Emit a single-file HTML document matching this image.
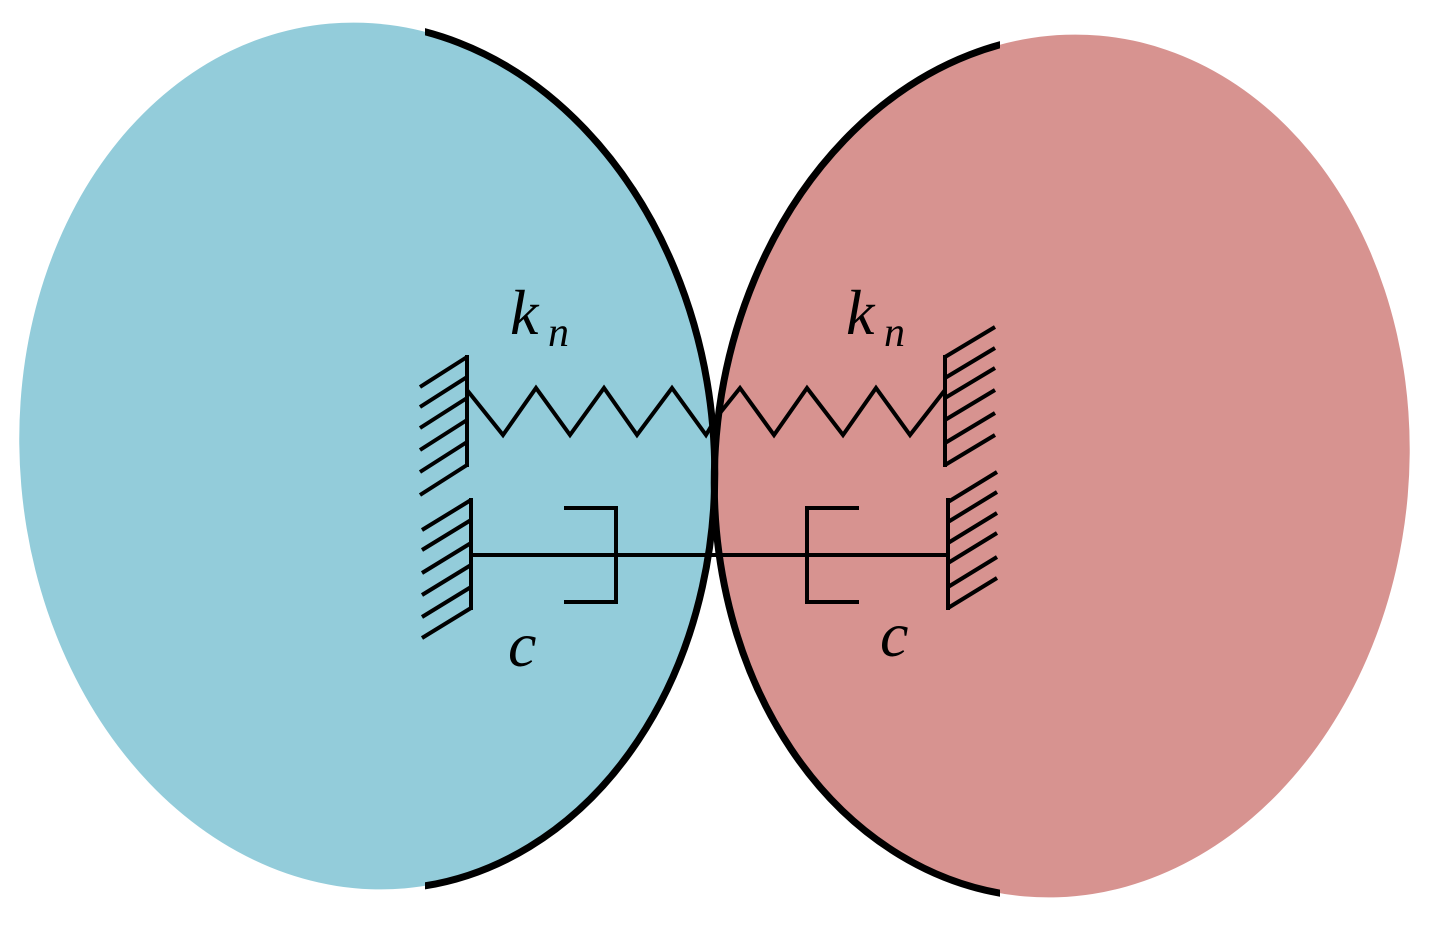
<!DOCTYPE html>
<html><head><style>html,body{margin:0;padding:0;background:#fff;}svg{display:block}</style></head>
<body>
<svg width="1432" height="925" viewBox="0 0 1432 925" xmlns="http://www.w3.org/2000/svg">
<defs>
<clipPath id="cb"><rect x="425" y="0" width="400" height="925"/></clipPath>
<clipPath id="cr"><rect x="600" y="0" width="400" height="925"/></clipPath>
</defs>
<ellipse cx="367" cy="456" rx="347" ry="434" transform="rotate(-5 367 456)" fill="#93ccda"/>
<ellipse cx="1062" cy="466" rx="347" ry="432" transform="rotate(5 1062 466)" fill="#d79390"/>
<g clip-path="url(#cb)">
<ellipse cx="367" cy="456" rx="347" ry="434" transform="rotate(-5 367 456)" fill="none" stroke="#000" stroke-width="7"/>
</g>
<g clip-path="url(#cr)">
<ellipse cx="1062" cy="466" rx="347" ry="432" transform="rotate(5 1062 466)" fill="none" stroke="#000" stroke-width="7"/>
</g>
<g stroke="#000" stroke-width="4" fill="none" stroke-linecap="butt">
<line x1="467" y1="355" x2="467" y2="467"/>
<path d="M467 357 L420 387 M467 377 L420 407 M467 398 L420 428 M467 420 L420 450 M467 442 L420 472 M467 465 L420 495"/>
<polyline points="467,390 503,435 536,388 570,435 604,388 637,435 672,388 706,435 716,418"/>
<polyline points="716,418 740,388 774,435 807,388 843,435 876,388 910,435 945,390"/>
<line x1="945" y1="355" x2="945" y2="467"/>
<path d="M945 357 L995 327 M945 378 L995 348 M945 398 L995 368 M945 420 L995 390 M945 443 L995 413 M945 465 L995 435"/>
<line x1="471" y1="498" x2="471" y2="610"/>
<path d="M471 500 L422 530 M471 520 L422 550 M471 543 L422 573 M471 565 L422 595 M471 587 L422 617 M471 608 L422 638"/>
<line x1="471" y1="555" x2="716" y2="555"/>
<polyline points="564,508 616,508 616,602 564,602"/>
<line x1="716" y1="555" x2="948" y2="555"/>
<polyline points="859,508 807,508 807,602 859,602"/>
<line x1="948" y1="498" x2="948" y2="610"/>
<path d="M948 502 L997 472 M948 522 L997 492 M948 543 L997 513 M948 563 L997 533 M948 587 L997 557 M948 608 L997 578"/>
</g>
<g font-family="'Liberation Serif', serif" font-style="italic" fill="#000">
<text x="510" y="334" font-size="64">k</text><text x="548" y="346" font-size="42">n</text>
<text x="846" y="334" font-size="64">k</text><text x="884" y="346" font-size="42">n</text>
<text x="508" y="666" font-size="64">c</text>
<text x="880" y="656" font-size="64">c</text>
</g>
</svg>
</body></html>
